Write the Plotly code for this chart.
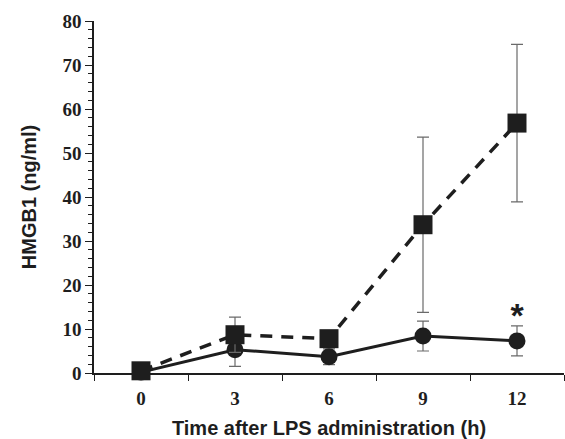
import plotly.graph_objects as go

time_h = [0, 3, 6, 9, 12]
square_mean = [0.5, 8.7, 7.8, 33.7, 56.8]
square_err = [0, 4.0, 0.5, 19.9, 17.9]
circle_mean = [0.2, 5.3, 3.7, 8.4, 7.3]
circle_err = [0, 3.8, 1.8, 3.4, 3.4]
x_tick_vals = [0, 3, 6, 9, 12]
y_tick_vals = [0, 10, 20, 30, 40, 50, 60, 70, 80]
star_x = [12]
star_y = [12.5]

ink = "#1e1e1e"
serif = "Liberation Serif"
sans = "Liberation Sans"

fig = go.Figure()
fig.add_trace(go.Scatter(
    x=time_h, y=circle_mean, mode="lines+markers",
    line=dict(color=ink, width=3),
    marker=dict(symbol="circle", size=17, color=ink),
    error_y=dict(type="data", array=circle_err, visible=True, color="#6a6a6a", thickness=1.2, width=6),
    cliponaxis=False, showlegend=False))
fig.add_trace(go.Scatter(
    x=time_h, y=square_mean, mode="lines+markers",
    line=dict(color=ink, width=3.5, dash="12px,9px"),
    marker=dict(symbol="square", size=19, color=ink),
    error_y=dict(type="data", array=square_err, visible=True, color="#6a6a6a", thickness=1.2, width=6),
    cliponaxis=False, showlegend=False))
fig.add_trace(go.Scatter(
    x=star_x, y=star_y, mode="text", text=["*"],
    textfont=dict(family=sans, size=34, color=ink, weight="bold"),
    textposition="middle center", cliponaxis=False, showlegend=False))

fig.update_layout(
    width=565, height=439,
    margin=dict(l=94, r=1, t=21, b=66),
    plot_bgcolor="white", paper_bgcolor="white",
    xaxis=dict(
        range=[-1.5, 13.5], tickvals=x_tick_vals, ticks="",
        tickfont=dict(family=serif, size=19, color=ink, weight="bold"),
        ticklabelstandoff=7,
        showline=True, linecolor=ink, linewidth=1.5, showgrid=False, zeroline=False,
        minor=dict(tick0=-1.5, dtick=3, ticks="outside", ticklen=6, tickcolor=ink, tickwidth=1, showgrid=False),
        title=dict(text="Time after LPS administration (h)", standoff=16,
                   font=dict(family=sans, size=20, color=ink, weight="bold")),
    ),
    yaxis=dict(
        range=[0, 80], tickvals=y_tick_vals, ticks="outside", ticklen=7, tickwidth=1, tickcolor=ink,
        tickfont=dict(family=serif, size=19, color=ink, weight="bold"),
        showline=True, linecolor=ink, linewidth=1.5, showgrid=False, zeroline=False,
        minor=dict(dtick=2, ticks="outside", ticklen=4, tickcolor=ink, tickwidth=1, showgrid=False),
        title=dict(text="HMGB1 (ng/ml)", standoff=20,
                   font=dict(family=sans, size=20, color=ink, weight="bold")),
    ),
)

fig.write_html("out.html")
